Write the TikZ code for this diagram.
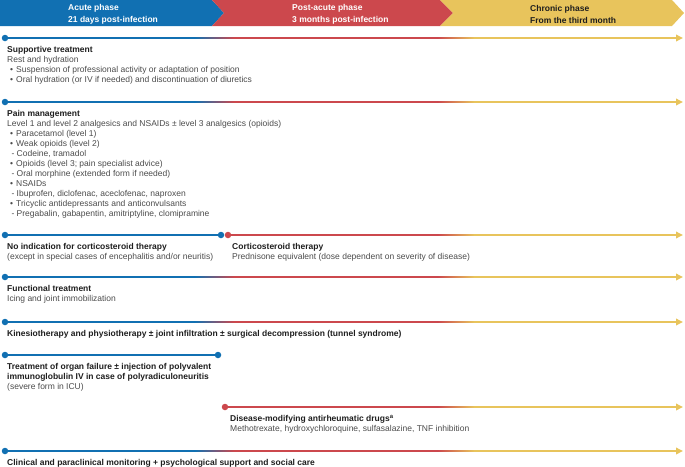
\documentclass[tikz,border=0pt]{standalone}
\usepackage{fontspec}
\setmainfont{Liberation Sans}
\usepackage{tikz}
\usetikzlibrary{arrows.meta,calc}
\definecolor{acuteblue}{RGB}{17,112,178}
\definecolor{postred}{RGB}{204,72,77}
\definecolor{chronyellow}{RGB}{232,196,92}
\definecolor{ink}{RGB}{30,30,30}
\definecolor{bodygray}{RGB}{75,75,75}
\newcommand{\blockhead}[1]{{\bfseries\color{ink}#1}}
\newcommand{\bl}{\makebox[9pt][l]{\hspace{3pt}•}}
\newcommand{\dsh}{\makebox[9.5pt][l]{\hspace{4.5pt}-}}

\begin{document}
\begin{tikzpicture}[x=1pt,y=-1pt,
 dot/.style={circle,inner sep=0pt,minimum size=6.5pt},
 track/.style={line width=1.8pt},
 ends/.style={-{Triangle[length=7pt,width=6.5pt]}},
 block/.style={anchor=north west,inner sep=0pt,align=left,text=bodygray,font=\fontsize{8.5}{10}\selectfont},
 phasetxt/.style={anchor=west,inner sep=0pt,align=left,font=\bfseries\fontsize{8.5}{11.5}\selectfont}
]
\useasboundingbox (0,0) rectangle (685,466);
% phase banner
\fill[acuteblue] (0,0) -- (212,0) -- (224,13) -- (212,26) -- (0,26) -- cycle;
\fill[postred] (212,0) -- (440,0) -- (453,13) -- (440,26) -- (212,26) -- (224,13) -- cycle;
\fill[chronyellow] (440,0) -- (672,0) -- (684,13) -- (672,26) -- (440,26) -- (453,13) -- cycle;
\node[phasetxt,text=white] (acute) at (68,14.5) {Acute phase\\21 days post-infection};
\node[phasetxt,text=white] (postacute) at (292,14.5) {Post-acute phase\\3 months post-infection};
\node[phasetxt,text=ink] (chronic) at (530,14.5) {Chronic phase\\From the third month};
% colour change points
\coordinate (b1) at (195,0);
\coordinate (b2) at (234,0);
\coordinate (b3) at (438,0);
\coordinate (b4) at (474,0);
% start dots and arrow ends
\node[dot,fill=acuteblue] (d1) at (5,38) {};
\node[dot,fill=acuteblue] (d2) at (5,102) {};
\node[dot,fill=acuteblue] (d3) at (5,235) {};
\node[dot,fill=acuteblue] (m3) at (221,235) {};
\node[dot,fill=postred] (n3) at (228,235) {};
\node[dot,fill=acuteblue] (d4) at (5,277) {};
\node[dot,fill=acuteblue] (d5) at (5,322) {};
\node[dot,fill=acuteblue] (d6) at (5,355) {};
\node[dot,fill=acuteblue] (m6) at (218,355) {};
\node[dot,fill=postred] (d7) at (225,407) {};
\node[dot,fill=acuteblue] (d8) at (5,451) {};
\coordinate (e1) at (683,38);
\coordinate (e2) at (683,102);
\coordinate (e3) at (683,235);
\coordinate (e4) at (683,277);
\coordinate (e5) at (683,322);
\coordinate (e7) at (683,407);
\coordinate (e8) at (683,451);
% full tracks
\foreach \n in {1,2,4,5,8}{
 \draw[track,acuteblue] (d\n) -- (d\n -| b1);
 \shade[left color=acuteblue,right color=postred] ($(d\n -| b1)+(-.3,-.9)$) rectangle ($(d\n -| b2)+(.3,.9)$);
 \draw[track,postred] (d\n -| b2) -- (d\n -| b3);
 \shade[left color=postred,right color=chronyellow] ($(d\n -| b3)+(-.3,-.9)$) rectangle ($(d\n -| b4)+(.3,.9)$);
 \draw[track,ends,chronyellow] (d\n -| b4) -- (e\n);
}
% split and short tracks
\draw[track,acuteblue] (d3) -- (m3);
\draw[track,postred] (n3) -- (n3 -| b3);
\shade[left color=postred,right color=chronyellow] ($(n3 -| b3)+(-.3,-.9)$) rectangle ($(n3 -| b4)+(.3,.9)$);
\draw[track,ends,chronyellow] (n3 -| b4) -- (e3);
\draw[track,acuteblue] (d6) -- (m6);
\draw[track,postred] (d7) -- (d7 -| b3);
\shade[left color=postred,right color=chronyellow] ($(d7 -| b3)+(-.3,-.9)$) rectangle ($(d7 -| b4)+(.3,.9)$);
\draw[track,ends,chronyellow] (d7 -| b4) -- (e7);
% treatments
\node[block] (t1) at (7,46) {\blockhead{Supportive treatment}\\Rest and hydration\\\bl Suspension of professional activity or adaptation of position\\\bl Oral hydration (or IV if needed) and discontinuation of diuretics};
\node[block] (t2) at (7,110) {\blockhead{Pain management}\\Level 1 and level 2 analgesics and NSAIDs ± level 3 analgesics (opioids)\\\bl Paracetamol (level 1)\\\bl Weak opioids (level 2)\\\dsh Codeine, tramadol\\\bl Opioids (level 3; pain specialist advice)\\\dsh Oral morphine (extended form if needed)\\\bl NSAIDs\\\dsh Ibuprofen, diclofenac, aceclofenac, naproxen\\\bl Tricyclic antidepressants and anticonvulsants\\\dsh Pregabalin, gabapentin, amitriptyline, clomipramine};
\node[block] (t3) at (7,243) {\blockhead{No indication for corticosteroid therapy}\\(except in special cases of encephalitis and/or neuritis)};
\node[block] (t3b) at (232,243) {\blockhead{Corticosteroid therapy}\\Prednisone equivalent (dose dependent on severity of disease)};
\node[block] (t4) at (7,285) {\blockhead{Functional treatment}\\Icing and joint immobilization};
\node[block] (t5) at (7,330) {\blockhead{Kinesiotherapy and physiotherapy ± joint infiltration ± surgical decompression (tunnel syndrome)}};
\node[block] (t6) at (7,363) {\blockhead{Treatment of organ failure ± injection of polyvalent}\\\blockhead{immunoglobulin IV in case of polyradiculoneuritis}\\(severe form in ICU)};
\node[block] (t7) at (230,415) {\blockhead{Disease-modifying antirheumatic drugs\textsuperscript{a}}\\Methotrexate, hydroxychloroquine, sulfasalazine, TNF inhibition};
\node[block] (t8) at (7,459) {\blockhead{Clinical and paraclinical monitoring + psychological support and social care}};
\end{tikzpicture}
\end{document}
